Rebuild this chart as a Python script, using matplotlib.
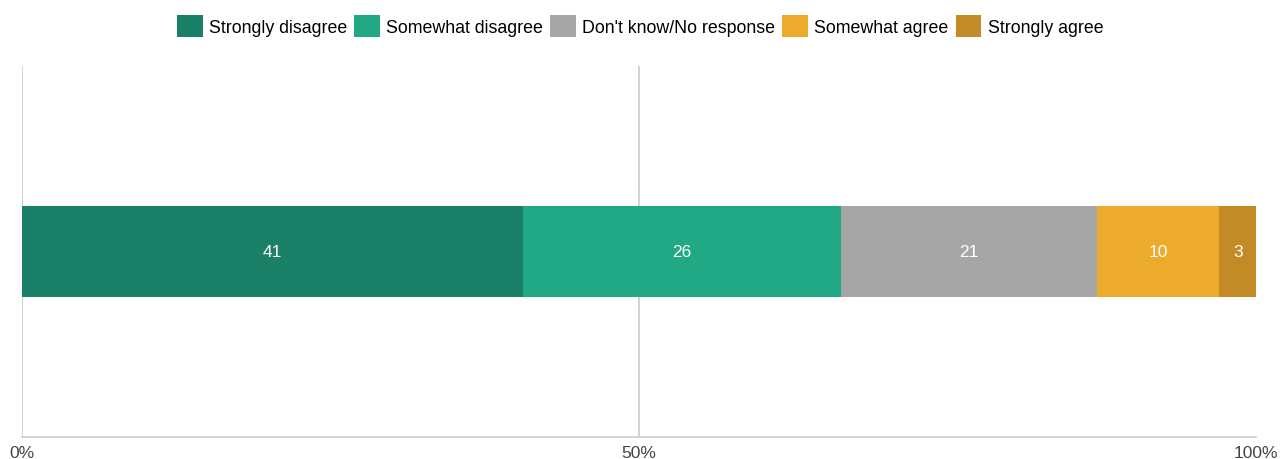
import matplotlib.pyplot as plt
from matplotlib.patches import Patch

plt.rcParams['font.family'] = ['Liberation Sans', 'DejaVu Sans']

categories = ['Strongly disagree', 'Somewhat disagree', "Don't know/No response",
              'Somewhat agree', 'Strongly agree']
values = [41, 26, 21, 10, 3]
colours = ['#1b8068', '#21a884', '#a6a6a6', '#edab2e', '#c28b26']
tick_values = [0, 50, 100]
tick_labels = ['0%', '50%', '100%']

total = sum(values)
shares = [v / total * 100 for v in values]

fig = plt.figure(figsize=(12.8, 4.6), dpi=100)
ax = fig.add_axes([22 / 1280, 22 / 460, 1234 / 1280, 371 / 460])

left = 0
for cat, share, val, col in zip(categories, shares, values, colours):
    ax.barh(0, share, left=left, height=0.245, color=col, label=cat)
    ax.text(left + share / 2, 0, str(val), ha='center', va='center',
            color='white', fontsize=12.5)
    left += share

for x in (0, 50):
    ax.axvline(x, color='#cccccc', lw=1.2, zorder=0)

ax.set_xlim(0, 100)
ax.set_ylim(-0.5, 0.5)
ax.set_yticks([])
ax.set_xticks(tick_values)
ax.set_xticklabels(tick_labels, color='#444444', fontsize=12.5)
ax.tick_params(axis='x', length=0, pad=6)
for s in ('top', 'right', 'left'):
    ax.spines[s].set_visible(False)
ax.spines['bottom'].set_color('#cccccc')
ax.spines['bottom'].set_linewidth(1.2)

handles = [Patch(facecolor=c, label=l) for c, l in zip(colours, categories)]
fig.legend(handles=handles, loc='center', bbox_to_anchor=(0.5, 1 - 27 / 460),
           ncol=5, frameon=False, fontsize=12.8, handlelength=1.45, handleheight=1.45,
           handletextpad=0.35, columnspacing=0.4)

fig.savefig('out.png', dpi=100)
